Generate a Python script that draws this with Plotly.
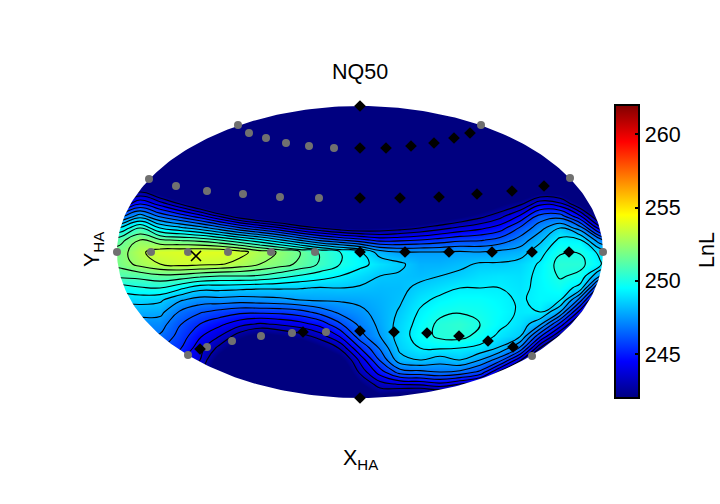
import numpy as np
import plotly.graph_objects as go

W, H = 720, 504
CX, CY, RX, RY = 360, 252, 243, 146

# grid positions (offset from ellipse centre, in plot pixels-like units)
x_ha = list(range(-260, 261, 20))
y_ha = [72 - 12 * i for i in range(20)]  # rows from y_px=180 to 408
y_top = [156, 144, 132, 120, 108, 96, 84]
navy = 241.5

# each column runs from top row to bottom row
c100=[239,241,243.5,246,249,251,251.6,251.5,250.8,249.5,248.5,247.8,247,246.5,246,245.5,245,244.5,244,243.5]
c120=[239,241.3,243.6,246.5,249.3,251.3,252,251.9,251,249.6,248.6,247.8,247,246.5,246,245.5,245,244.5,244,243.5]
c140=[240.4,242.8,245.2,248,250.8,252.4,253,252.7,251.1,249.9,248.7,247.9,247.2,246.8,246.3,245.8,245.3,244.8,244.3,243.8]
c160=[239,241.5,244.1,246.6,249.2,251.7,253.7,253.2,251.4,250,248.55,247.85,247.2,246.7,246.1,245.5,245,244.5,244,243.5]
c180=[237,239.9,242.8,245.7,248.6,251.5,253.8,253.5,251.3,249.4,247.7,246.7,246.05,245.7,245.3,244.5,244,243.5,243.2,243]
c200=[235,238,241.4,244.7,248,251.3,253.9,253.4,251,248.7,247.25,246.1,245.2,244.5,243.9,243.6,243.2,243,242.8,242.6]
c220=[236,238,239.7,243.4,247.1,250.8,253.9,253.3,250.8,248.7,247.3,245.7,244.6,243.6,242.5,241.3,240.5,240,240,240]
c240=[235,236.5,238.2,242.1,246.1,250.1,253.5,252.9,250.8,248.6,247.2,245.4,243.9,242.3,241,240,240,240,240,240]
c260=[236,236,237.5,241.2,245.3,249.4,252.8,252.4,250.7,248.5,247.3,245.4,243.5,241.5,240,240,240,240,240,240]
c280=[237,237,237,240.4,244.5,248.5,252.3,252,250.3,248.5,247.4,245.45,243.75,241.9,240.3,240,240,240,240,240]
c300=[237,237,237,239.6,243.5,247.5,251.6,251.4,249.9,248.45,247.6,245.7,244.1,242.4,240.8,240,240,240,240,240]
c320=[236,236,236,239,242.8,246.6,250.7,250.7,249.6,248.33,247.7,246.3,244.7,243.2,241.8,240.5,240,240,240,240]
c340=[236,236,236,238.6,242.2,246,250,250,249.2,248.4,247.7,247,245.9,244.5,242.9,241.5,240.5,240,240,240]
c360=[236,236,236,238.2,241.9,245.5,249.3,249.45,248.8,248.3,247.8,247.4,247,246.5,245.2,243.8,243,241.8,240.5,240]
c380=[236,236,236,239.4,242.1,244.9,248,248.9,248.4,248.15,248,247.9,247.8,247.6,246.9,246.1,244.8,243.3,241.8,240.5]
c400=[236,236,237,239.7,242.4,245,247.6,248.55,248.3,248.2,248.3,248.5,248.7,248.8,248.6,248.1,246.4,243.7,241.3,240]
c420=[236,236,238,240.4,242.8,245.2,247.6,248,248.2,248.6,249,249.3,249.5,249.6,249.2,248.4,246.6,243.8,241,240]
c440=[236,237,239,241.2,243.3,245.5,247.6,248,248.4,248.9,249.4,249.8,250.2,250.2,249.3,248,246.8,244.2,241.3,240]
c460=[236,237.8,239.8,241.8,243.8,245.8,247.7,248.2,248.6,249.2,249.6,249.95,250.4,250.3,249.2,248.4,246.6,243.6,241,240]
c480=[237,239,240.8,242.5,244.2,245.9,247.6,248.5,248.9,249.2,249.6,249.8,250,249.7,249,247.6,245.8,242.9,240.5,240]
c500=[238.5,240.3,241.8,243.3,244.8,246.3,247.8,248.5,249,249.2,249.4,249.5,249.4,249,248.3,246.3,243.4,241,240,240]
c520=[239,240.7,242.6,244.5,246.1,247.1,248,248.7,248.9,249,249.1,249.1,248.9,248.5,246.7,243.8,241,240,240,240]
c540=[239,241.8,244.2,246.3,247.3,248.2,248.9,249.3,249.4,249.4,249.4,249.2,247.8,245.4,242.8,240.5,240,240,240,240]
c560=[239,241.6,243.9,246.4,248.4,249.4,249.9,250.3,250.1,249.7,249.25,247.6,245,242.6,240.5,240,240,240,240,240]
c580=[237,239.5,241.9,244.5,247.2,249.3,249.95,250.25,249.8,248.9,246.4,244,241.9,240,240,240,240,240,240,240]
c600=[236,237,239,241.5,244,247,249,249.3,247.6,244.6,242.2,240.5,240,240,240,240,240,240,240,240]
c620=[236,237,238,240.5,243,246,248.5,248.5,246.5,243.5,241.5,240,240,240,240,240,240,240,240,240]
columns = [c100,c120,c140,c160,c180,c200,c220,c240,c260,c280,c300,c320,c340,c360,c380,c400,c420,c440,c460,c480,c500,c520,c540,c560,c580,c600,c620]

# sampled directions, grey = back-side, black = front-side
grey_x = [-122,-111,-94,-74,-51,-26,-211,-184,-153,-117,-80,-41,-243,-209,-172,-132,-89,-45,121,210,243,-172,-153,-128,-99,-68,-34,172]
grey_y = [127,119,114,109,106,104,73,66,61,58,55,54,0,0,0,0,0,0,127,74,0,-103,-95,-89,-84,-81,-80,-104]
black_x = [0,0,0,26,51,74,94,110,0,40,79,117,152,184,0,45,89,132,172,209,0,34,67,99,128,153,-57,-160]
black_y = [146,-146,104,104,106,109,114,119,54,54,55,58,61,66,0,0,0,0,0,0,-79,-80,-81,-84,-89,-95,-80,-97]
best_x = [-164]
best_y = [-4]

jet = [[0,"#000080"],[0.125,"#0000ff"],[0.375,"#00ffff"],[0.625,"#ffff00"],[0.875,"#ff0000"],[1,"#800000"]]

z_rows = np.array(columns).T
z = np.vstack([np.full((len(y_top), z_rows.shape[1]), navy), z_rows])
y_all = y_top + y_ha

fig = go.Figure()
fig.add_trace(go.Heatmap(x=x_ha, y=y_all, z=z, zsmooth="best", coloraxis="coloraxis", hoverinfo="skip"))
fig.add_trace(go.Contour(x=x_ha, y=y_all, z=z, showscale=False, hoverinfo="skip",
    contours=dict(coloring="none", start=242.8, end=254.0, size=0.8),
    line=dict(color="black", width=1.1, smoothing=1.3)))

# white surround that trims the map to the ellipse
t = np.linspace(2*np.pi, 0, 361)
ring_x = list(RX*np.cos(t)) + [RX+30, RX+30, -RX-30, -RX-30, RX+30, RX+30, RX]
ring_y = list(RY*np.sin(t)) + [0, RY+30, RY+30, -RY-30, -RY-30, 0, 0]
fig.add_trace(go.Scatter(x=ring_x, y=ring_y, mode="lines", fill="toself", fillcolor="white",
    line=dict(width=0, color="white"), hoverinfo="skip", showlegend=False))

fig.add_trace(go.Scatter(x=grey_x, y=grey_y, mode="markers", cliponaxis=False, showlegend=False,
    marker=dict(symbol="circle", size=8, color="#707070")))
fig.add_trace(go.Scatter(x=black_x, y=black_y, mode="markers", cliponaxis=False, showlegend=False,
    marker=dict(symbol="diamond", size=9, color="black")))
fig.add_trace(go.Scatter(x=best_x, y=best_y, mode="markers", cliponaxis=False, showlegend=False,
    marker=dict(symbol="x-thin", size=10, color="black", line=dict(width=1.6, color="black"))))

FONT = "Liberation Sans"
FS = 21.5
def ann(text, px, py, angle=0):
    return dict(text=text, x=px/W, y=1-py/H, xref="paper", yref="paper", showarrow=False,
                xanchor="center", yanchor="middle", textangle=angle, font=dict(family=FONT, size=FS, color="black"))

fig.update_layout(
    width=W, height=H, margin=dict(l=0, r=0, t=0, b=0), autosize=False,
    paper_bgcolor="white", plot_bgcolor="white", showlegend=False,
    font=dict(family=FONT, size=FS, color="black"),
    xaxis=dict(domain=[(CX-RX)/W, (CX+RX)/W], range=[-RX, RX], visible=False, fixedrange=True),
    yaxis=dict(domain=[1-(CY+RY)/H, 1-(CY-RY)/H], range=[-RY, RY], visible=False, fixedrange=True),
    coloraxis=dict(cmin=242, cmax=262, colorscale=jet, colorbar=dict(
        x=615/W, xanchor="left", xpad=0, ypad=0, y=1-251.5/H, yanchor="middle",
        lenmode="fraction", len=293/H, thicknessmode="pixels", thickness=24,
        outlinecolor="black", outlinewidth=2, ticks="inside", ticklen=5, tickcolor="black", tickwidth=1.5,
        tickvals=[245,250,255,260], tickprefix="\u2002\u2002\u2009", tickfont=dict(family=FONT, size=FS))),
    annotations=[ann("NQ50", 360, 72), ann("X<sub>HA</sub>", 360, 459), ann("Y<sub>HA</sub>", 93, 250, -90),
                 ann("LnL", 707, 250, -90)],
)
fig.write_html("out.html", config={"displayModeBar": False}, post_script="document.body.style.margin='0';")
